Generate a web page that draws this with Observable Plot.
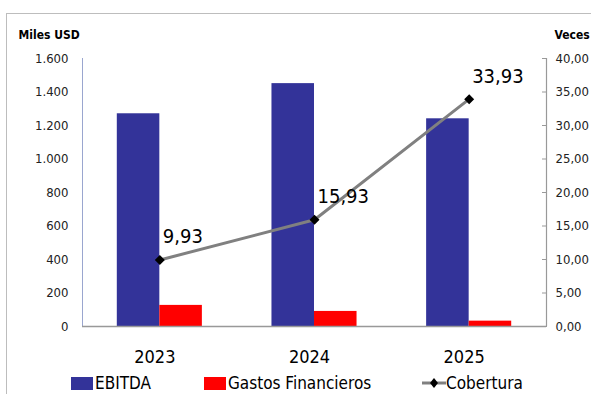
<!DOCTYPE html>
<html>
<head>
<meta charset="utf-8">
<script src="https://cdn.jsdelivr.net/npm/d3@7"></script>
<script src="https://cdn.jsdelivr.net/npm/@observablehq/plot@0.6"></script>
<style>
  html, body { margin: 0; padding: 0; background: #fff; }
  #wrap { position: relative; width: 591px; height: 394px; overflow: hidden;
    font-family: "DejaVu Sans Condensed", "Liberation Sans Narrow", sans-serif; }
  #frame { position: absolute; left: 6px; top: 13px; width: 600px; height: 400px;
    border-left: 1.5px solid #bdbdbd; border-top: 1.5px solid #bdbdbd; }
  #chart { position: absolute; left: 0; top: 0; }
  #legend { position: absolute; left: 0; top: 373px; width: 591px; height: 21px; font-size: 17px; line-height: 20px; color: #000; }
  .item { position: absolute; top: 0; display: flex; align-items: center; height: 20px; white-space: nowrap; }
  .sw { width: 22px; height: 13px; margin-right: 2px; }
</style>
</head>
<body>
<div id="wrap">
  <div id="frame"></div>
  <div id="chart"></div>
  <div id="legend"></div>
</div>
<script>
const years = ["2023", "2024", "2025"];
const ebitda = [1270, 1450, 1240];
const gastos = [126, 90, 32];
const cobertura = [9.93, 15.93, 33.93];
const leftTicks = [0, 200, 400, 600, 800, 1000, 1200, 1400, 1600];
const rightTicks = [0, 5, 10, 15, 20, 25, 30, 35, 40];
const seriesNames = ["EBITDA", "Gastos Financieros", "Cobertura"];
const colors = ["#333399", "#ff0000", "#808080"];

const ratio = 1600 / 40; // right axis -> left axis units
const rows = years.map((y, i) => ({ year: y, i, ebitda: ebitda[i], gastos: gastos[i], cob: cobertura[i] }));
const bw = 0.275;
const fmtLeft = d => d3.format(",")(d).replace(/,/g, ".");
const fmtRight = d => (d / ratio).toFixed(2).replace(".", ",");
const FONT = '"DejaVu Sans Condensed", "Liberation Sans Narrow", sans-serif';

const plot = Plot.plot({
  width: 591,
  height: 372,
  marginLeft: 82,
  marginRight: 45,
  marginTop: 58,
  marginBottom: 46,
  style: { fontFamily: FONT, background: "transparent", overflow: "visible" },
  x: { type: "linear", domain: [0, years.length] },
  y: { domain: [0, 1600] },
  marks: [
    Plot.rectY(rows, { x1: d => d.i + 0.5 - bw, x2: d => d.i + 0.5, y1: 0, y2: "ebitda", fill: colors[0] }),
    Plot.rectY(rows, { x1: d => d.i + 0.5, x2: d => d.i + 0.5 + bw, y1: 0, y2: "gastos", fill: colors[1] }),
    Plot.ruleX([0], { stroke: "#9aa6cf", strokeWidth: 1 }),
    Plot.ruleX([years.length], { stroke: "#999", strokeWidth: 1.2 }),
    Plot.ruleY([0], { stroke: "#999", strokeWidth: 1.5 }),
    Plot.axisY({ anchor: "left", ticks: leftTicks, tickFormat: fmtLeft, tickSize: 0, tickPadding: 14, fontSize: 13, label: null, color: "#222" }),
    Plot.axisY({ anchor: "right", ticks: rightTicks.map(v => v * ratio), tickFormat: fmtRight, tickSize: -5, tickPadding: 14, fontSize: 13, label: null, stroke: "#999", color: "#222" }),
    Plot.axisX({ ticks: rows.map(d => d.i + 0.5), tickFormat: v => years[Math.floor(v)], tickSize: 0, tickPadding: 24, fontSize: 18, dx: -5, label: null, color: "#000" }),
    Plot.line(rows, { x: d => d.i + 0.5, y: d => d.cob * ratio, stroke: colors[2], strokeWidth: 3 }),
    Plot.dot(rows, { x: d => d.i + 0.5, y: d => d.cob * ratio, symbol: "diamond2", fill: "#000", r: 4.5 }),
    Plot.text(rows, { x: d => d.i + 0.5, y: d => d.cob * ratio, text: d => d.cob.toFixed(2).replace(".", ","), textAnchor: "start", dx: 3, dy: -23, fontSize: 20, fill: "#000" }),
    Plot.text(["Miles USD"], { frameAnchor: "top-left", dx: -64, dy: -28, textAnchor: "start", fontSize: 12, fontWeight: "bold", fill: "#000" }),
    Plot.text(["Veces"], { frameAnchor: "top-right", dx: 8, dy: -28, textAnchor: "start", fontSize: 12, fontWeight: "bold", fill: "#000" })
  ]
});
document.getElementById("chart").appendChild(plot);

const legend = document.getElementById("legend");
const lx = [71, 204, 422];
seriesNames.forEach((name, k) => {
  const it = document.createElement("div");
  it.className = "item";
  it.style.left = lx[k] + "px";
  if (k < 2) {
    it.innerHTML = `<span class="sw" style="background:${colors[k]}"></span><span>${name}</span>`;
  } else {
    it.innerHTML = `<svg width="24" height="14"><line x1="0" y1="7" x2="24" y2="7" stroke="${colors[2]}" stroke-width="3"/><path d="M12,2L16,7L12,12L8,7Z" fill="#000"/></svg><span>${name}</span>`;
  }
  legend.appendChild(it);
});
</script>
</body>
</html>
